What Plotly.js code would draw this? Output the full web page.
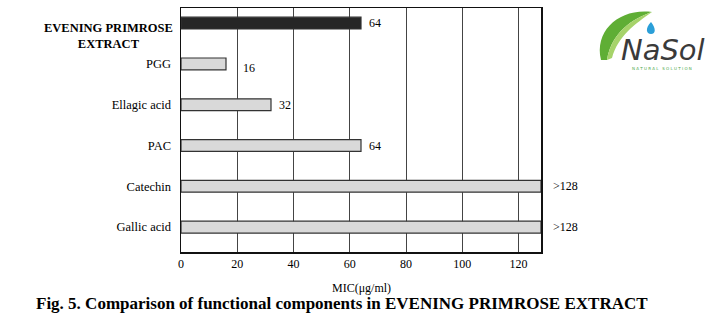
<!DOCTYPE html>
<html>
<head>
<meta charset="utf-8">
<script src="https://cdn.plot.ly/plotly-3.0.1.min.js"></script>
<style>html,body{margin:0;padding:0;background:#fff;}#chart{width:720px;height:331px;}</style>
</head>
<body>
<div id="chart"></div>
<script>
// ---- data ----
const categories = ["EVENING PRIMROSE<br>EXTRACT", "PGG", "Ellagic acid", "PAC", "Catechin", "Gallic acid"];
const micValues = [64, 16, 32, 64, 128, 128];
const valueLabels = ["64", "16", "32", "64", ">128", ">128"];
const xTickVals = [0, 20, 40, 60, 80, 100, 120];

// ---- layout helpers (pixel -> paper) ----
const L = 181, R = 541, T = 8, B = 252;
const fx = px => (px - L) / (R - L);
const fy = py => (B - py) / (B - T);

const barColors = micValues.map((v, i) => i === 0 ? "#262626" : "#d9d9d9");
const serif = "Liberation Serif, Times New Roman, serif";

const trace = {
  type: "bar",
  orientation: "h",
  y: categories,
  x: micValues,
  width: 0.29,
  marker: { color: barColors, line: { color: "#333", width: 1.2 } },
  hoverinfo: "skip",
  showlegend: false
};

const labelShift = [[6, 0], [15, -4], [6, 0], [6, 0], [10, 0], [10, 0]];
const annotations = valueLabels.map((t, i) => ({
  x: micValues[i], y: categories[i], xref: "x", yref: "y",
  text: t, showarrow: false, xanchor: "left", yanchor: "middle",
  xshift: labelShift[i][0], yshift: labelShift[i][1],
  font: { family: serif, size: 12, color: "#000" }
}));

// first category label (two lines, centred, first line level with the bar)
annotations.push({
  x: 0, y: categories[0], xref: "paper", yref: "y",
  text: "<b>" + categories[0] + "</b>", showarrow: false,
  xanchor: "right", yanchor: "top", align: "center", xshift: -6, yshift: 4,
  font: { family: serif, size: 12.5, color: "#000" }
});

annotations.push({
  xref: "paper", yref: "paper", x: 0.5, y: fy(288), text: "MIC(μg/ml)",
  showarrow: false, xanchor: "center", yanchor: "middle",
  font: { family: serif, size: 12, color: "#000" }
});
annotations.push({
  xref: "paper", yref: "paper", x: fx(342), y: fy(303),
  text: "<b>Fig. 5. Comparison of functional components in EVENING PRIMROSE EXTRACT</b>",
  showarrow: false, xanchor: "center", yanchor: "middle",
  font: { family: serif, size: 17, color: "#000" }
});
// logo text
annotations.push({
  xref: "paper", yref: "paper", x: fx(663), y: fy(50), text: "<i>NaSol</i>",
  showarrow: false, xanchor: "center", yanchor: "middle",
  font: { family: "DejaVu Sans", size: 29, color: "#3a3a3a" }
});
annotations.push({
  xref: "paper", yref: "paper", x: fx(662), y: fy(68), text: "N A T U R A L   S O L U T I O N",
  showarrow: false, xanchor: "center", yanchor: "middle",
  font: { family: "DejaVu Sans", size: 4, color: "#4aa84a" }
});

function p(px, py) { return fx(px).toFixed(4) + "," + fy(py).toFixed(4); }
const shapes = [
  { type: "path", xref: "paper", yref: "paper",
    path: "M" + p(601, 60) + " C" + p(594, 30) + " " + p(620, 8) + " " + p(652, 12) +
          " C" + p(640, 16) + " " + p(612, 28) + " " + p(607, 60) + " Z",
    fillcolor: "#5fae35", line: { width: 0 } },
  { type: "path", xref: "paper", yref: "paper",
    path: "M" + p(607, 60) + " C" + p(612, 28) + " " + p(640, 16) + " " + p(652, 12) +
          " C" + p(635, 24) + " " + p(618, 36) + " " + p(612, 58) + " Z",
    fillcolor: "#a6d36a", line: { width: 0 } },
  { type: "path", xref: "paper", yref: "paper",
    path: "M" + p(651, 22) + " C" + p(645, 28) + " " + p(646, 34) + " " + p(651, 34) +
          " C" + p(656, 34) + " " + p(656, 28) + " " + p(651, 22) + " Z",
    fillcolor: "#2b9fd8", line: { width: 0 } }
];

const layout = {
  width: 720, height: 331,
  margin: { l: L, r: 720 - R, t: T, b: 331 - B, pad: 0 },
  paper_bgcolor: "#fff", plot_bgcolor: "#fff",
  bargap: 0,
  xaxis: {
    range: [0, 128], tickvals: xTickVals, ticks: "",
    showgrid: true, gridcolor: "#444", gridwidth: 1, zeroline: false,
    showline: true, mirror: true, linecolor: "#111", linewidth: 1.5,
    tickfont: { family: serif, size: 12, color: "#000" }, fixedrange: true
  },
  yaxis: {
    type: "category", range: [5.61, -0.37], ticks: "",
    showgrid: false, zeroline: false, showline: true, mirror: true,
    linecolor: "#111", linewidth: 1.5, ticklabelstandoff: 6,
    tickvals: categories,
    ticktext: categories.map((c, i) => i === 0 ? "" : c),
    tickfont: { family: serif, size: 12.5, color: "#000" }, fixedrange: true
  },
  annotations: annotations,
  shapes: shapes,
  showlegend: false
};

Plotly.newPlot("chart", [trace], layout, { displayModeBar: false, staticPlot: true });
</script>
</body>
</html>
